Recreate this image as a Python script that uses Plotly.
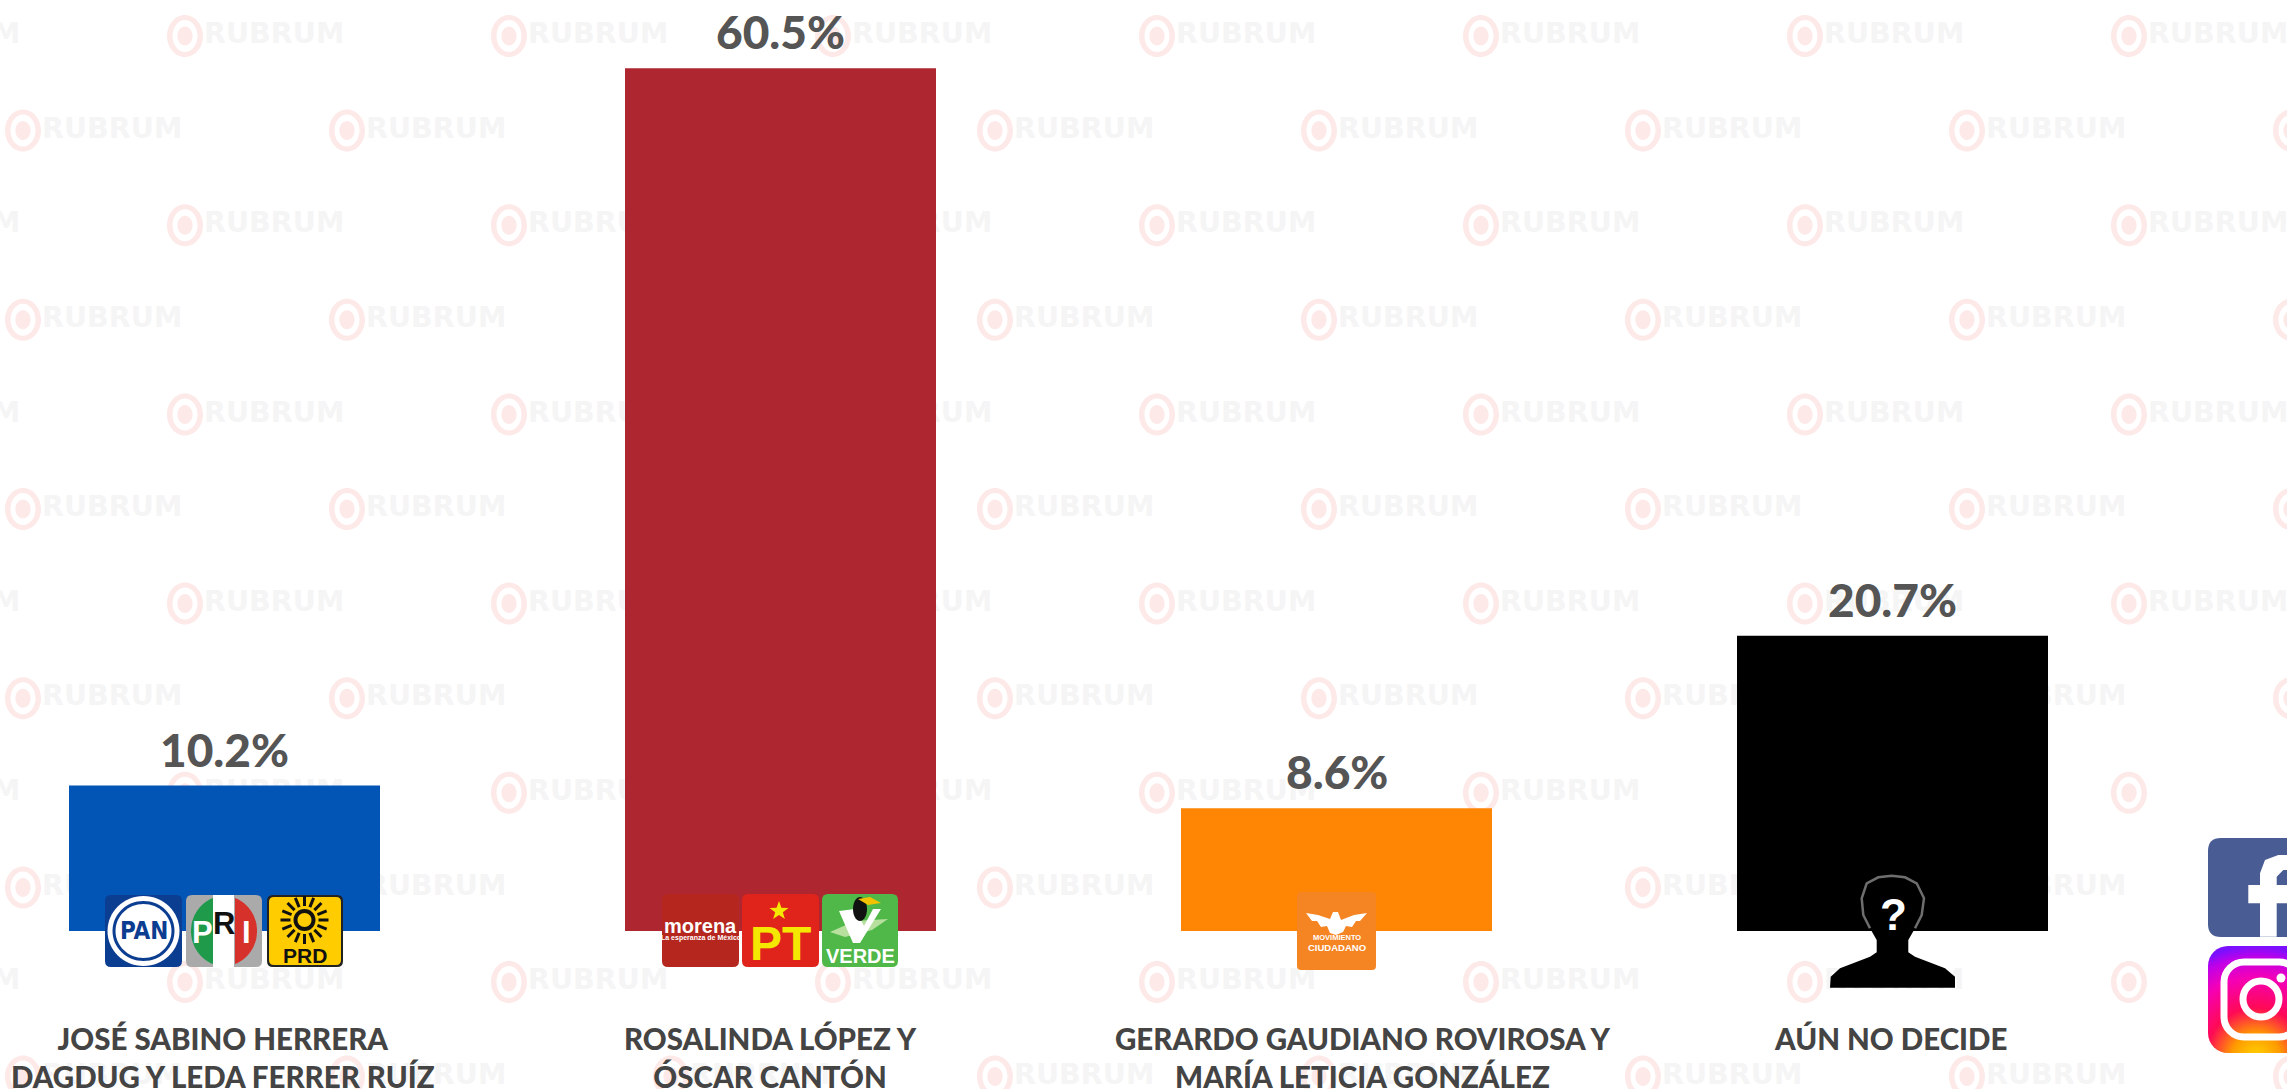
import base64
import numpy as np
import plotly.graph_objects as go

W, H = 2287, 1089

# ---- chart data ----
categories = ["JOSÉ SABINO HERRERA<br>DAGDUG Y LEDA FERRER RUÍZ",
              "ROSALINDA LÓPEZ Y<br>ÓSCAR CANTÓN",
              "GERARDO GAUDIANO ROVIROSA Y<br>MARÍA LETICIA GONZÁLEZ",
              "AÚN NO DECIDE"]
values = [10.2, 60.5, 8.6, 20.7]
value_labels = ["10.2%", "60.5%", "8.6%", "20.7%"]
bar_colors = ["#0254b5", "#ae262f", "#ff8505", "#000000"]
label_shifts = [-2, -10, 26, -2]

FONT = "Lato"
BASELINE = 931
PX_PER_UNIT = 14.26
CENTER0, STEP, BAR_W = 224.5, 556, 311

shapes, annotations = [], []


def ell(cx, cy, rx, ry, cw=True):
    k = 0.5523
    s = 1 if cw else -1
    return (f"M{cx-rx:.1f},{cy:.1f}"
            f"C{cx-rx:.1f},{cy-s*k*ry:.1f} {cx-k*rx:.1f},{cy-s*ry:.1f} {cx:.1f},{cy-s*ry:.1f}"
            f"C{cx+k*rx:.1f},{cy-s*ry:.1f} {cx+rx:.1f},{cy-s*k*ry:.1f} {cx+rx:.1f},{cy:.1f}"
            f"C{cx+rx:.1f},{cy+s*k*ry:.1f} {cx+k*rx:.1f},{cy+s*ry:.1f} {cx:.1f},{cy+s*ry:.1f}"
            f"C{cx-k*rx:.1f},{cy+s*ry:.1f} {cx-rx:.1f},{cy+s*k*ry:.1f} {cx-rx:.1f},{cy:.1f}Z")


def rrect(x0, y0, x1, y1, r):
    return (f"M{x0+r},{y0}L{x1-r},{y0}Q{x1},{y0} {x1},{y0+r}L{x1},{y1-r}Q{x1},{y1} {x1-r},{y1}"
            f"L{x0+r},{y1}Q{x0},{y1} {x0},{y1-r}L{x0},{y0+r}Q{x0},{y0} {x0+r},{y0}Z")


def poly(pts):
    return "M" + "L".join(f"{x:.1f},{y:.1f}" for x, y in pts) + "Z"


def add(path, fill, layer="above", line=None, lw=0):
    shapes.append(dict(type="path", path=path, xref="x", yref="y", layer=layer, fillcolor=fill,
                       line=dict(width=lw, color=line or "rgba(0,0,0,0)")))


def txt(x, y, s, size, color, weight=700, family="Liberation Sans"):
    annotations.append(dict(x=x, y=y, xref="x", yref="y", text=s, showarrow=False,
                            xanchor="center", yanchor="middle",
                            font=dict(size=size, color=color, family=family, weight=weight)))


# ---- watermark grid ----
wm_x, wm_y, wm_text = [], [], []
ring_path = []
for row in range(12):
    cy = 36 + 94.6 * row
    start = 185 - 324 if row % 2 == 0 else 23
    for col in range(8):
        cx = start + 324 * col
        ring_path += [ell(cx, cy, 18, 21), ell(cx, cy, 12.5, 16, False), ell(cx, cy, 7.6, 9.5)]
        if not (cx > 2100 and cy > 700):
            wm_x.append(cx + 19)
            wm_y.append(cy)
            wm_text.append("RUBRUM")
add("".join(ring_path), "#fee9e9", layer="below")

# ---- party logos (bar 1) ----
add(rrect(105, 895, 182, 967, 6), "#0b3d91")
add(ell(143.5, 931, 36, 35), "#ffffff")
add(ell(143.5, 931, 31, 30), "#0b3d91")
add(ell(143.5, 931, 28, 27), "#ffffff")
txt(143.5, 931, "PAN", 24, "#0b3d91", family="DejaVu Sans Condensed")

add(rrect(186, 895, 262, 967, 6), "#aaaaaa")
t = np.linspace(np.pi / 2 + 0.34, 3 * np.pi / 2 - 0.34, 30)
add(poly(list(zip(224 + 33 * np.cos(t), 931 + 35 * np.sin(t)))), "#1f9a4a")
add(poly(list(zip(224 - 33 * np.cos(t), 931 + 35 * np.sin(t)))), "#d6312b")
add("M213,895L234,895L234,967L213,967Z", "#ffffff")
txt(202, 932, "P", 31, "#ffffff")
txt(224, 923, "R", 31, "#111111")
txt(246, 932, "I", 31, "#ffffff")

add(rrect(267, 895, 343, 967, 6), "#222222")
add(rrect(269, 897, 341, 965, 5), "#ffcc00")
add(ell(304.5, 920, 11, 11), "#111111")
add(ell(304.5, 920, 7, 7), "#ffcc00")
for a in np.linspace(0, 2 * np.pi, 16, endpoint=False):
    r0, r1 = 14, 24
    shapes.append(dict(type="line", xref="x", yref="y", layer="above",
                       x0=304.5 + r0 * np.cos(a), y0=920 + r0 * np.sin(a),
                       x1=304.5 + r1 * np.cos(a), y1=920 + r1 * np.sin(a),
                       line=dict(color="#111111", width=3)))
txt(304.5, 955, "PRD", 21, "#111111")

# ---- party logos (bar 2) ----
add(rrect(662, 894, 739, 967, 6), "#b5261e")
txt(700.5, 926, "morena", 20, "#ffffff")
txt(700.5, 938, "La esperanza de México", 7, "#ffffff")

add(rrect(742, 894, 819, 967, 6), "#e0241b")
a = np.arange(10) * np.pi / 5 - np.pi / 2
r = np.where(np.arange(10) % 2 == 0, 10, 4)
add(poly(list(zip(779 + r * np.cos(a), 911 + r * np.sin(a)))), "#f5e800")
txt(780, 943, "PT", 48, "#f5e800")

add(rrect(822, 894, 898, 967, 6), "#4fb848")
add(poly([(830, 932), (855, 921), (888, 919), (872, 930), (845, 937)]), "#b7e09f")
add(poly([(839, 911), (855, 909), (864, 926), (873, 909), (881, 909), (860, 943), (853, 943)]), "#ffffff")
add(ell(860, 909, 7, 12), "#111111")
add(poly([(858, 899), (870, 897), (881, 903), (868, 905)]), "#f2c200")
txt(860, 956, "VERDE", 20, "#ffffff")

# ---- party logo (bar 3) ----
add(rrect(1297, 892, 1376, 970, 4), "#f58523")
add(poly([(1306, 913), (1318, 915), (1330, 919), (1333, 912), (1338, 912), (1341, 920), (1354, 915), (1367, 913),
          (1360, 921), (1356, 921), (1352, 927), (1346, 926), (1343, 932), (1336, 935), (1330, 933),
          (1327, 926), (1321, 927), (1317, 921), (1312, 921)]), "#ffffff")
txt(1336.5, 937, "MOVIMIENTO", 7.5, "#ffffff")
txt(1336.5, 947, "CIUDADANO", 9.5, "#ffffff")

# ---- unknown person ----
def sil(x, y):
    return 1820 + x / 3, 865 + y / 3


body = [(30, 368), (32, 335), (60, 310), (150, 275), (170, 262), (170, 225), (150, 190), (130, 150),
        (125, 100), (140, 55), (175, 37), (215, 32), (255, 37), (290, 55), (312, 100), (305, 150),
        (285, 190), (265, 225), (265, 262), (285, 275), (375, 310), (405, 335), (405, 368)]
add(poly([sil(*p) for p in body]), "#000000")
head = [(150, 190), (130, 150), (125, 100), (140, 55), (175, 37), (215, 32), (255, 37), (290, 55),
        (312, 100), (305, 150), (285, 190)]
add("M" + "L".join("%.1f,%.1f" % sil(*p) for p in head), "rgba(0,0,0,0)", line="#6e6e6e", lw=2.5)
txt(1893, 914, "?", 44, "#ffffff")

# ---- social icons ----
add(rrect(2208, 838, 2320, 937, 13), "#4a5c94")
fp = [(510, 590), (510, 490), (475, 490), (475, 435), (510, 435), (510, 400), (525, 360), (565, 345),
      (600, 345), (600, 390), (580, 390), (560, 410), (560, 435), (600, 435), (600, 490), (560, 490), (560, 590)]
add(poly([(2090 + x / 3, 740 + y / 3) for x, y in fp]), "#ffffff")

svg = """<svg xmlns='http://www.w3.org/2000/svg' viewBox='0 0 107 107'>
<defs>
<radialGradient id='a' cx='0.45' cy='1.05' r='1.05'>
<stop offset='0' stop-color='#ffd600'/><stop offset='0.22' stop-color='#ff9a00'/>
<stop offset='0.45' stop-color='#ff0a55'/><stop offset='0.72' stop-color='#f500b5'/>
<stop offset='0.9' stop-color='#c000e8'/><stop offset='1' stop-color='#7a10ff'/>
</radialGradient></defs>
<rect width='107' height='107' rx='20' fill='url(#a)'/>
<rect x='16' y='16' width='75' height='75' rx='20' fill='none' stroke='#fff' stroke-width='7'/>
<circle cx='53' cy='53' r='18' fill='none' stroke='#fff' stroke-width='7'/>
<circle cx='73' cy='32' r='4.5' fill='#fff'/></svg>"""
src = "data:image/svg+xml;base64," + base64.b64encode(svg.encode()).decode()
images = [dict(source=src, xref="x", yref="y", x=2208, y=946, sizex=107, sizey=107,
               xanchor="left", yanchor="top", sizing="stretch", layer="above")]

# ---- value and category labels ----
for c, v, s, shift in zip(categories, values, value_labels, label_shifts):
    annotations.append(dict(x=c, y=v, xref="x2", yref="y2", text=s, showarrow=False,
                            xanchor="center", yanchor="bottom", yshift=7,
                            font=dict(size=46, color="#555555", family=FONT, weight=900)))
    annotations.append(dict(x=c, y=0, xref="x2", yref="y2", text=c, showarrow=False,
                            xanchor="center", yanchor="top", xshift=shift, yshift=-88,
                            font=dict(size=29.5, color="#444444", family=FONT, weight=900)))

fig = go.Figure()
fig.add_trace(go.Scatter(x=wm_x, y=wm_y, text=wm_text, mode="text", textposition="middle right",
                         textfont=dict(size=28.5, color="#f5f5f6", family="DejaVu Sans", weight=700),
                         xaxis="x", yaxis="y", hoverinfo="skip", showlegend=False))
fig.add_trace(go.Bar(x=categories, y=values, marker=dict(color=bar_colors, line=dict(width=0)),
                     xaxis="x2", yaxis="y2", showlegend=False))

fig.update_layout(
    width=W, height=H, margin=dict(l=0, r=0, t=0, b=0), autosize=False,
    paper_bgcolor="#ffffff", plot_bgcolor="rgba(0,0,0,0)",
    bargap=1 - BAR_W / STEP, showlegend=False,
    xaxis=dict(range=[0, W], domain=[0, 1], visible=False, anchor="y"),
    yaxis=dict(range=[H, 0], domain=[0, 1], visible=False, anchor="x"),
    xaxis2=dict(type="category", categoryorder="array", categoryarray=categories,
                range=[-CENTER0 / STEP, (W - CENTER0) / STEP], domain=[0, 1], anchor="y2",
                showticklabels=False, showgrid=False, zeroline=False, showline=False, ticks=""),
    yaxis2=dict(range=[0, BASELINE / PX_PER_UNIT], domain=[(H - BASELINE) / H, 1], anchor="x2",
                visible=False, showgrid=False, zeroline=False),
    shapes=shapes, annotations=annotations, images=images,
)
fig.write_html("out.html", config={"displayModeBar": False},
               post_script="document.body.style.margin='0';document.body.style.overflow='hidden';")
